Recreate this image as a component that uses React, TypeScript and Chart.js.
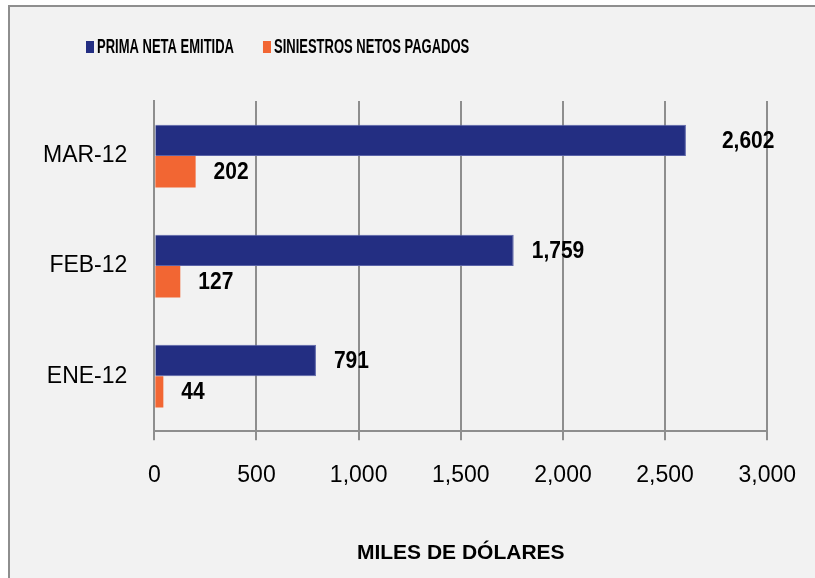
import React, { useEffect, useRef } from 'react';
import { Chart, registerables } from 'chart.js';

Chart.register(...registerables);

// ---- data ----
const categories = ['MAR-12', 'FEB-12', 'ENE-12'];
const primaNetaEmitida = [2602, 1759, 791];
const siniestrosNetosPagados = [202, 127, 44];
const seriesNames = ['PRIMA NETA EMITIDA', 'SINIESTROS NETOS PAGADOS'];
const xTickValues = [0, 500, 1000, 1500, 2000, 2500, 3000];
const axisTitle = 'MILES DE DÓLARES';

// ---- styles ----
const FONT = "'Liberation Sans', Arial, sans-serif";
const BLUE = '#232e82';
const ORANGE = '#f26633';
const GRID = '#8e8e8e';
const LABEL_GAP = [
  [36, 18, 18],
  [18, 18, 18],
];

const fmt = (v: number) => v.toLocaleString('en-US');

function drawTallText(ctx: any, text: string, x: number, y: number, sy: number) {
  ctx.save();
  ctx.translate(x, y);
  ctx.scale(1, sy);
  ctx.fillText(text, 0, 0);
  ctx.restore();
}

const legendPlugin = {
  id: 'customLegend',
  afterDraw(chart: any) {
    const ctx = chart.ctx;
    ctx.save();
    ctx.font = `bold 13px ${FONT}`;
    ctx.textBaseline = 'middle';
    ctx.textAlign = 'left';
    let x = 76;
    const y = 40;
    chart.data.datasets.forEach((ds: any) => {
      ctx.fillStyle = ds.backgroundColor;
      ctx.fillRect(x, y - 6, 8, 12);
      x += 11;
      ctx.fillStyle = '#000';
      drawTallText(ctx, ds.label, x, y, 1.55);
      x += ctx.measureText(ds.label).width + 29;
    });
    ctx.restore();
  },
};

const valueLabelPlugin = {
  id: 'valueLabels',
  afterDatasetsDraw(chart: any) {
    const ctx = chart.ctx;
    ctx.save();
    ctx.font = `bold 21px ${FONT}`;
    ctx.fillStyle = '#000';
    ctx.textBaseline = 'middle';
    ctx.textAlign = 'left';
    chart.data.datasets.forEach((ds: any, di: number) => {
      const meta = chart.getDatasetMeta(di);
      meta.data.forEach((el: any, i: number) => {
        drawTallText(ctx, fmt(ds.data[i]), el.x + LABEL_GAP[di][i], el.y + 1, 1.12);
      });
    });
    ctx.restore();
  },
};

export default function App() {
  const canvasRef = useRef<HTMLCanvasElement | null>(null);

  useEffect(() => {
    if (!canvasRef.current) return;
    const chart = new Chart(canvasRef.current, {
      type: 'bar',
      data: {
        labels: categories,
        datasets: [
          {
            label: seriesNames[0],
            data: primaNetaEmitida,
            backgroundColor: BLUE,
            borderColor: '#5a63a8',
            borderWidth: 1,
          },
          {
            label: seriesNames[1],
            data: siniestrosNetosPagados,
            backgroundColor: ORANGE,
            borderWidth: 0,
          },
        ],
      },
      options: {
        indexAxis: 'y',
        animation: false,
        responsive: true,
        maintainAspectRatio: false,
        datasets: {
          bar: { categoryPercentage: 0.57, barPercentage: 1 },
        },
        layout: { padding: { left: 6, right: 40, top: 94, bottom: 12 } },
        plugins: {
          legend: { display: false },
          tooltip: { enabled: false },
        },
        scales: {
          x: {
            min: xTickValues[0],
            max: xTickValues[xTickValues.length - 1],
            ticks: {
              stepSize: xTickValues[1] - xTickValues[0],
              color: '#000',
              font: { family: FONT, size: 23 },
              padding: 22,
              callback: (v: any) => fmt(Number(v)),
            },
            grid: {
              color: GRID,
              lineWidth: 2,
              drawTicks: true,
              tickLength: 9,
            },
            border: { display: true, color: GRID, width: 2 },
            title: {
              display: true,
              text: axisTitle,
              color: '#000',
              font: { family: FONT, size: 21, weight: 'bold' },
              padding: { top: 29, bottom: 0 },
            },
          },
          y: {
            ticks: {
              color: '#000',
              font: { family: FONT, size: 23 },
              padding: 27,
            },
            grid: { display: false, drawTicks: false },
            border: { display: true, color: GRID, width: 2 },
          },
        },
      },
      plugins: [valueLabelPlugin, legendPlugin],
    } as any);
    return () => chart.destroy();
  }, []);

  return (
    <div style={{ position: 'fixed', left: 0, top: 0, width: 815, height: 578, overflow: 'hidden', background: '#fff' }}>
      <div
        style={{
          position: 'absolute',
          left: 8,
          top: 5,
          width: 900,
          height: 700,
          border: '2px solid #8e8e8e',
          background: '#f2f2f2',
        }}
      >
        <div style={{ position: 'absolute', left: 0, top: 0, width: 808, height: 571 }}>
          <canvas ref={canvasRef} />
        </div>
      </div>
    </div>
  );
}
